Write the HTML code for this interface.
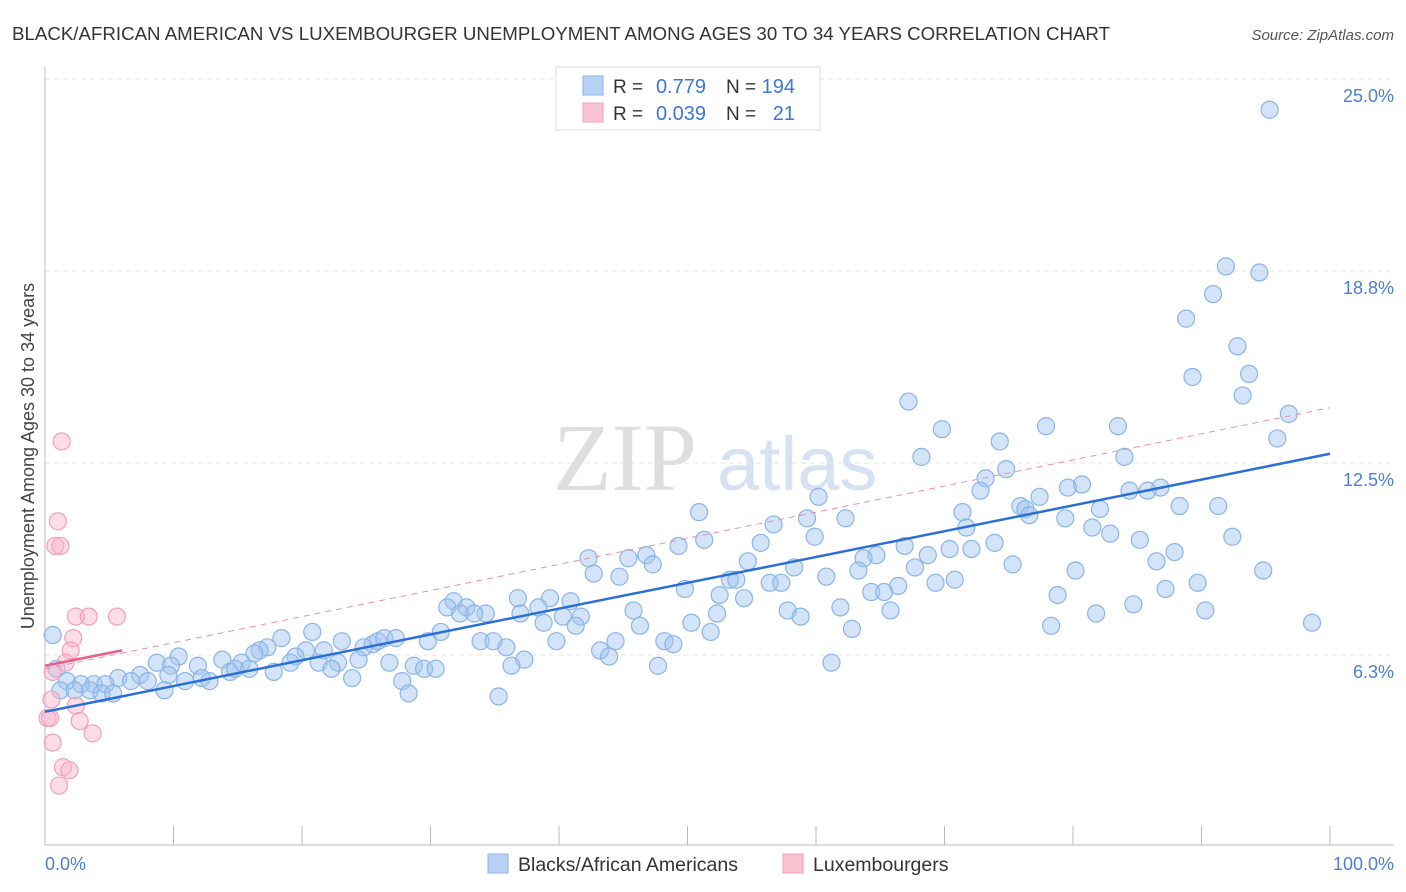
<!DOCTYPE html>
<html><head><meta charset="utf-8">
<style>
body{margin:0;background:#fff;font-family:"Liberation Sans",sans-serif;}
#wrap{position:relative;width:1406px;height:892px;overflow:hidden;}
</style></head>
<body>
<div id="wrap">
<svg id="chart" width="1406" height="892" xmlns="http://www.w3.org/2000/svg">
<text x="12" y="40" font-size="18" fill="#333" textLength="1098" lengthAdjust="spacingAndGlyphs">BLACK/AFRICAN AMERICAN VS LUXEMBOURGER UNEMPLOYMENT AMONG AGES 30 TO 34 YEARS CORRELATION CHART</text>
<text x="1394" y="40" font-size="15" fill="#555" font-style="italic" text-anchor="end">Source: ZipAtlas.com</text>
<g>
<text x="553" y="490" font-size="96" font-family="Liberation Serif" fill="#dedede">ZIP</text>
<text x="717" y="490" font-size="76" fill="#d6e2f2">atlas</text>
</g>
<g id="grid"></g>
<g id="axes"></g>
<g id="marks"></g>
<g id="lines"></g>
<text x="34" y="456" font-size="18" fill="#444" text-anchor="middle" transform="rotate(-90 34 456)">Unemployment Among Ages 30 to 34 years</text>
<text x="45" y="870" font-size="18" fill="#4a7fd4">0.0%</text>
<text x="1394" y="870" font-size="18" fill="#4a7fd4" text-anchor="end">100.0%</text>
<g>
<rect x="556" y="67" width="264" height="63" fill="#fff" stroke="#ddd"/>
<rect x="583" y="76" width="20" height="19" fill="#b8d2f5" stroke="#8ab4e8"/>
<rect x="583" y="103" width="20" height="19" fill="#f8c4d4" stroke="#f0a0b8"/>
<text x="613" y="93" font-size="19" fill="#333">R =</text>
<text x="706" y="93" font-size="20" fill="#3a78d4" text-anchor="end">0.779</text>
<text x="726" y="93" font-size="19" fill="#333">N =</text>
<text x="795" y="93" font-size="20" fill="#3a78d4" text-anchor="end">194</text>
<text x="613" y="120" font-size="19" fill="#333">R =</text>
<text x="706" y="120" font-size="20" fill="#3a78d4" text-anchor="end">0.039</text>
<text x="726" y="120" font-size="19" fill="#333">N =</text>
<text x="795" y="120" font-size="20" fill="#3a78d4" text-anchor="end">21</text>
</g>
<g>
<rect x="488" y="854" width="20" height="19" fill="#b8d2f5" stroke="#8ab4e8"/>
<text x="518" y="871" font-size="19.5" fill="#333">Blacks/African Americans</text>
<rect x="783" y="854" width="20" height="19" fill="#f8c4d4" stroke="#f0a0b8"/>
<text x="813" y="871" font-size="19.5" fill="#333">Luxembourgers</text>
</g>
</svg>
</div>
<script>
const yTicks=[6.25,12.5,18.75,25];
const yTickLabels=["6.3%","12.5%","18.8%","25.0%"];
const blueX=[95.3,91.9,94.5,90.9,88.8,92.8,93.7,89.3,93.2,67.2,96.8,69.8,77.9,83.5,74.3,95.9,68.2,84.0,74.8,73.2,72.8,80.7,79.6,77.4,84.4,86.8,85.8,60.2,75.9,76.3,76.6,82.1,88.3,91.3,71.4,79.4,50.9,62.3,59.3,56.7,71.7,81.5,82.9,85.2,92.4,51.3,49.3,55.7,59.9,66.9,73.9,72.1,70.4,68.7,64.7,63.7,87.9,42.3,45.4,46.8,47.3,54.7,58.3,75.3,86.5,94.8,67.7,63.3,80.2,42.7,44.7,60.8,53.3,53.8,56.4,57.3,69.3,70.8,66.4,49.8,89.7,87.2,64.3,65.3,52.5,54.4,78.8,36.8,39.3,40.9,84.7,31.8,31.3,32.8,38.4,45.8,57.8,61.9,65.8,90.3,81.8,32.3,34.3,33.4,37.0,40.3,41.7,52.3,58.8,38.8,41.3,46.3,50.3,98.6,78.3,62.8,51.8,20.8,30.8,18.4,0.6,33.9,34.9,39.8,17.3,23.1,25.5,25.9,26.4,27.3,20.3,21.7,24.8,29.8,35.9,44.4,43.2,48.2,48.9,16.7,16.3,19.5,10.4,43.9,47.7,61.2,8.7,9.8,11.9,13.8,15.3,19.1,21.3,22.8,24.4,26.8,28.7,29.5,30.4,37.3,36.3,22.3,14.4,14.8,15.9,17.8,0.9,7.4,9.6,12.2,23.9,5.7,6.7,8.0,10.9,12.8,1.7,2.8,3.8,4.7,27.8,1.2,2.3,3.5,4.4,5.3,9.3,28.3,35.3];
const blueY=[24.0,18.9,18.7,18.0,17.2,16.3,15.4,15.3,14.7,14.5,14.1,13.6,13.7,13.7,13.2,13.3,12.7,12.7,12.3,12.0,11.6,11.8,11.7,11.4,11.6,11.7,11.6,11.4,11.1,11.0,10.8,11.0,11.1,11.1,10.9,10.7,10.9,10.7,10.7,10.5,10.4,10.4,10.2,10.0,10.1,10.0,9.8,9.9,10.1,9.8,9.9,9.7,9.7,9.5,9.5,9.4,9.6,9.4,9.4,9.5,9.2,9.3,9.1,9.2,9.3,9.0,9.1,9.0,9.0,8.9,8.8,8.8,8.7,8.7,8.6,8.6,8.6,8.7,8.5,8.4,8.6,8.4,8.3,8.3,8.2,8.1,8.2,8.1,8.1,8.0,7.9,8.0,7.8,7.8,7.8,7.7,7.7,7.8,7.7,7.7,7.6,7.6,7.6,7.6,7.6,7.5,7.5,7.6,7.5,7.3,7.2,7.2,7.3,7.3,7.2,7.1,7.0,7.0,7.0,6.8,6.9,6.7,6.7,6.7,6.5,6.7,6.6,6.7,6.8,6.8,6.4,6.4,6.5,6.7,6.5,6.7,6.4,6.7,6.6,6.4,6.3,6.2,6.2,6.2,5.9,6.0,6.0,5.9,5.9,6.1,6.0,6.0,6.0,6.0,6.1,6.0,5.9,5.8,5.8,6.1,5.9,5.8,5.7,5.8,5.8,5.7,5.8,5.6,5.6,5.5,5.5,5.5,5.4,5.4,5.4,5.4,5.4,5.3,5.3,5.3,5.4,5.1,5.1,5.1,5.0,5.0,5.1,5.0,4.9];
const pinkX=[1.3,1.0,0.8,1.2,2.4,3.4,5.6,2.2,2.0,1.6,0.6,0.5,2.4,0.2,0.4,2.7,3.7,0.6,1.4,1.9,1.1];
const pinkY=[13.2,10.6,9.8,9.8,7.5,7.5,7.5,6.8,6.4,6.0,5.7,4.8,4.6,4.2,4.2,4.1,3.7,3.4,2.6,2.5,2.0];
const blueTrend=[4.4,12.8];
const pinkTrend=[5.8,14.3];
const pinkSolid=[5.9,6.4,6];

const NS="http://www.w3.org/2000/svg";
const X=v=>45+v*12.85;
const Y=v=>847-v*30.72;
function mk(tag,attrs,parent){const e=document.createElementNS(NS,tag);for(const k in attrs)e.setAttribute(k,attrs[k]);document.getElementById(parent).appendChild(e);return e;}
yTicks.forEach((t,i)=>{
  const g=mk('line',{x1:45,x2:1394,y1:Y(t),y2:Y(t),stroke:'#e4e4e4','stroke-dasharray':'5,4'},'grid');
  
  
  const l=mk('text',{x:1394,y:Y(t)+23,'font-size':18,fill:'#4a7fd4','text-anchor':'end'},'grid');
  l.textContent=yTickLabels[i];
  
  
});
const ya=mk('line',{x1:45,x2:45,y1:67,y2:845,stroke:'#bbb'},'axes');


const xa=mk('line',{x1:45,x2:1394,y1:845,y2:845,stroke:'#bbb'},'axes');


for(let k=0;k<=10;k++){
  const t=mk('line',{x1:X(k*10),x2:X(k*10),y1:826,y2:845,stroke:'#bbb'},'axes');
  
  
}
blueX.forEach((v,i)=>{
  const c=mk('circle',{cx:X(v),cy:Y(blueY[i]),r:8.5,fill:'rgba(160,195,240,0.45)',stroke:'#8ab4e8','stroke-width':1.2},'marks');
  
  
});
pinkX.forEach((v,i)=>{
  const c=mk('circle',{cx:X(v),cy:Y(pinkY[i]),r:8.5,fill:'rgba(248,180,200,0.45)',stroke:'#f0a0b8','stroke-width':1.2},'marks');
  
  
});
const pd=mk('line',{x1:X(0),y1:Y(pinkTrend[0]),x2:X(100),y2:Y(pinkTrend[1]),stroke:'#e890aa','stroke-width':1,'stroke-dasharray':'6,5'},'lines');


const bt=mk('line',{x1:X(0),y1:Y(blueTrend[0]),x2:X(100),y2:Y(blueTrend[1]),stroke:'#2a6fd6','stroke-width':2.5},'lines');


const ps=mk('line',{x1:X(0),y1:Y(pinkSolid[0]),x2:X(pinkSolid[2]),y2:Y(pinkSolid[1]),stroke:'#e8608a','stroke-width':2.5},'lines');


</script>
</body></html>
